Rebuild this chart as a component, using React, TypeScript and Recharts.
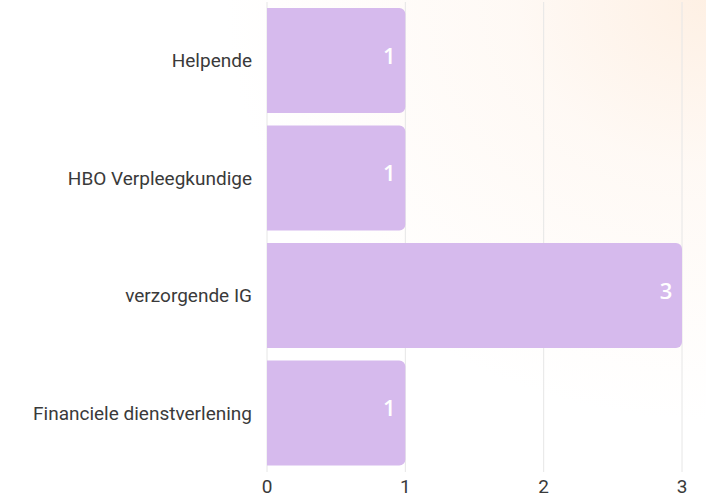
import React from "react";
import { Bar, BarChart, CartesianGrid, LabelList, XAxis, YAxis } from "recharts";

// Functies en aantal medewerkers per functie.
const categories = ["Helpende", "HBO Verpleegkundige", "verzorgende IG", "Financiele dienstverlening"];
const counts = [1, 1, 3, 1];
const xTicks = [0, 1, 2, 3];

const TOKEN = {
  bar: "#d6baed",
  grid: "#e6e6e6",
  ink: "#3a3a3a",
  label: "#ffffff",
} as const;

const data = categories.map((name, i) => ({ name, count: counts[i] }));

function BarValue(props: { x?: number; y?: number; width?: number; height?: number; value?: number }) {
  const { x = 0, y = 0, width = 0, height = 0, value } = props;
  return (
    <text
      x={x + width - 16}
      y={y + height / 2 - 6}
      textAnchor="middle"
      dominantBaseline="central"
      fill={TOKEN.label}
      fontSize={22}
      fontWeight={600}
      fontFamily="'Open Sans', sans-serif"
    >
      {value}
    </text>
  );
}

export default function App() {
  return (
    <div
      style={{
        position: "absolute",
        left: 0,
        top: 0,
        width: 706,
        height: 499,
        background:
          "radial-gradient(ellipse 480px 420px at 100% 0%, rgba(253,230,210,0.6) 0%, rgba(254,242,232,0.45) 40%, rgba(255,255,255,0) 100%), #ffffff",
      }}
    >
      <BarChart
        width={706}
        height={499}
        data={data}
        layout="vertical"
        margin={{ top: 2, right: 24, bottom: 0, left: 0 }}
      >
        <CartesianGrid horizontal={false} stroke={TOKEN.grid} />
        <XAxis
          type="number"
          domain={[0, 3]}
          ticks={xTicks}
          height={27}
          axisLine={false}
          tickLine={false}
          tickSize={0}
          tickMargin={8}
          tick={{ fill: TOKEN.ink, fontSize: 19, fontFamily: "Roboto, sans-serif" }}
        />
        <YAxis
          type="category"
          dataKey="name"
          width={267}
          axisLine={false}
          tickLine={false}
          tickSize={0}
          tickMargin={15}
          tick={{ fill: TOKEN.ink, fontSize: 19, fontFamily: "Roboto, sans-serif" }}
        />
        <Bar dataKey="count" fill={TOKEN.bar} barSize={105} radius={[0, 6, 6, 0]} isAnimationActive={false}>
          <LabelList dataKey="count" content={<BarValue />} />
        </Bar>
      </BarChart>
    </div>
  );
}
